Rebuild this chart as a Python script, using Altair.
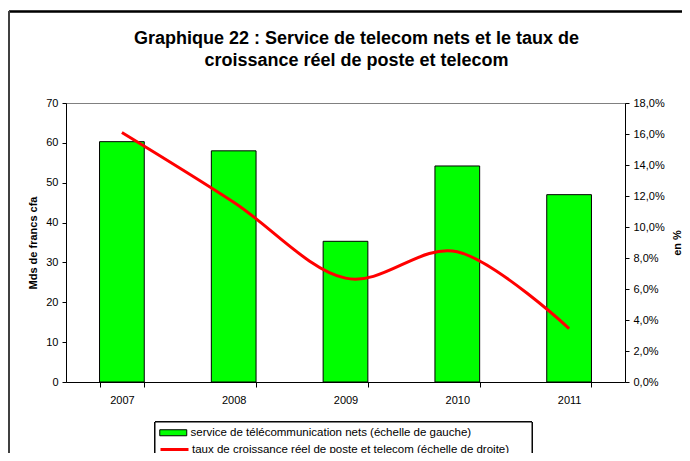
import altair as alt
import pandas as pd

years = ["2007", "2008", "2009", "2010", "2011"]
services = [60.3, 58.0, 35.3, 54.2, 47.0]          # Mds de francs cfa
growth = [0.161, 0.116, 0.067, 0.084, 0.0345]      # taux de croissance

lab_bar = "service de télécommunication nets (échelle de gauche)"
lab_line = "taux de croissance réel de poste et telecom (échelle de droite)"
title_lines = ["Graphique 22 : Service de telecom nets et le taux de",
               "croissance réel de poste et telecom"]
left_ticks = [0, 10, 20, 30, 40, 50, 60, 70]
right_ticks = [0, 0.02, 0.04, 0.06, 0.08, 0.10, 0.12, 0.14, 0.16, 0.18]

df = pd.DataFrame({"annee": years, "services": services, "taux": growth,
                   "s_bar": [lab_bar] * len(years),
                   "s_line": [lab_line] * len(years)})

FONT = "Liberation Sans"
W, H = 559, 279

x_enc = alt.X("annee:N", sort=years,
              scale=alt.Scale(paddingInner=0.6, paddingOuter=0.3),
              axis=alt.Axis(title=None, labelAngle=0, tickBand="extent",
                            tickSize=5, labelPadding=7, domainColor="black",
                            tickColor="black", labelFontSize=11))

leg_common = dict(title=None, orient="none", padding=0, symbolSize=100,
                  labelOffset=20, labelFontSize=11.5, labelLimit=500,
                  labelFont=FONT, labelColor="black", symbolOpacity=1)

bars = alt.Chart(df).mark_bar(stroke="black", strokeWidth=1, opacity=1).encode(
    x=x_enc,
    y=alt.Y("services:Q", scale=alt.Scale(domain=[0, 70], nice=False),
            axis=alt.Axis(title="Mds de francs cfa", values=left_ticks, grid=False,
                          tickSize=4, labelPadding=4, domainColor="black",
                          tickColor="black", labelFontSize=11,
                          titleFontSize=11, titleFontWeight="bold",
                          titleAngle=-90, titleX=-33, titleY=H / 2,
                          titleAlign="center", titleBaseline="middle")),
    fill=alt.Fill("s_bar:N",
                  scale=alt.Scale(domain=[lab_bar], range=["#00ff00"]),
                  legend=alt.Legend(legendX=93, legendY=324,
                                    symbolType="M-1,-0.6H4.4V0.6H-1Z",
                                    symbolStrokeColor="black",
                                    symbolStrokeWidth=1, **leg_common)),
)

line = alt.Chart(df).mark_line(strokeWidth=3, interpolate="cardinal").encode(
    x=alt.X("annee:N", sort=years),
    y=alt.Y("taux:Q", scale=alt.Scale(domain=[0, 0.18], nice=False),
            axis=alt.Axis(orient="right", title="en %", values=right_ticks,
                          grid=False, tickSize=4, labelPadding=4,
                          domainColor="black", tickColor="black",
                          labelFontSize=11,
                          labelExpr="replace(format(datum.value, '.1%'), '.', ',')",
                          titleFontSize=11, titleFontWeight="bold",
                          titleAngle=-90, titleX=52, titleY=H / 2,
                          titleAlign="center", titleBaseline="middle")),
    stroke=alt.Stroke("s_line:N",
                      scale=alt.Scale(domain=[lab_line], range=["#ff0000"]),
                      legend=alt.Legend(legendX=93, legendY=340,
                                        symbolType="M-1,0H4.6",
                                        symbolStrokeWidth=3, **leg_common)),
)

legend_box = alt.Chart(df).mark_rect(fill="white", stroke="black",
                                     strokeWidth=1).encode(
    x=alt.value(89), x2=alt.value(466), y=alt.value(319), y2=alt.value(H + 90))

frame_top = alt.Chart(df).mark_rule(color="black", strokeWidth=1.5).encode(
    x=alt.value(-57), x2=alt.value(W + 120), y=alt.value(-91.5))
frame_left = alt.Chart(df).mark_rule(color="#404040", strokeWidth=2).encode(
    x=alt.value(-57), y=alt.value(-91.5), y2=alt.value(H + 200))

chart = alt.layer(legend_box, bars, line, frame_top, frame_left).resolve_scale(
    y="independent"
).properties(
    width=W, height=H,
    title=alt.TitleParams(title_lines, fontSize=18, fontWeight="bold",
                          font=FONT, color="black", anchor="middle",
                          frame="group", lineHeight=22, dx=11, dy=89,
                          offset=30),
    autosize=alt.AutoSizeParams(type="none"),
    padding={"left": 58, "top": 95, "right": 57, "bottom": 71},
    background="white",
).configure_view(stroke="#808080", strokeWidth=1).configure_axis(
    labelFont=FONT, titleFont=FONT, labelColor="black", titleColor="black"
).configure_legend(labelFont=FONT)

chart.save("out.html", embed_options={"renderer": "svg", "actions": False})
